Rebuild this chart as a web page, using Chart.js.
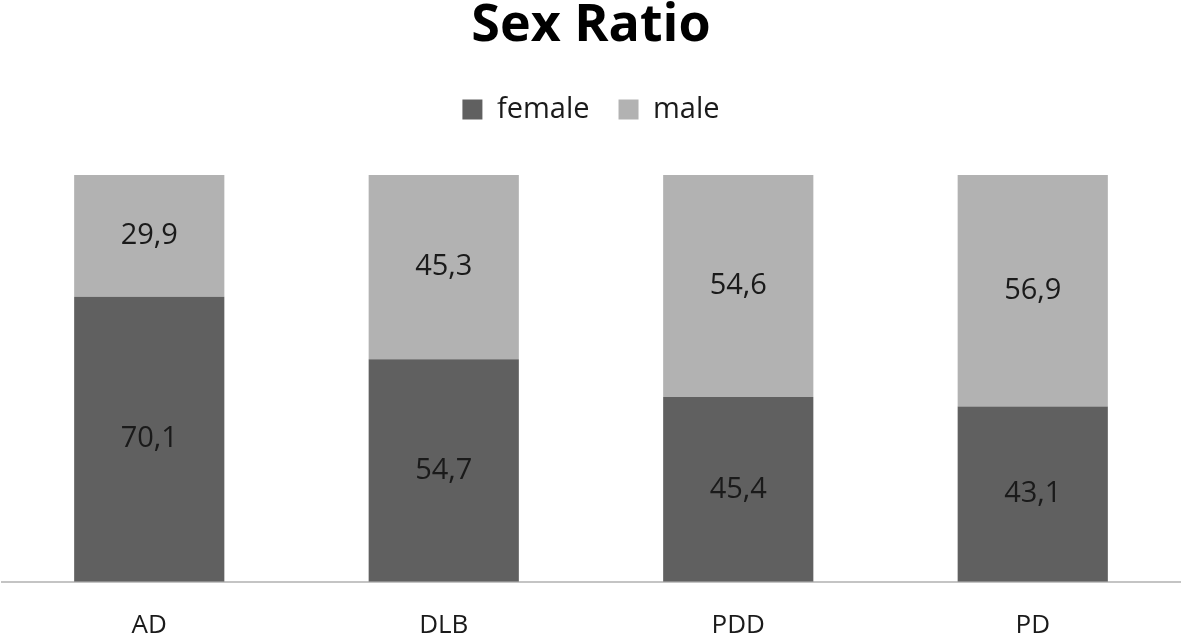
<!DOCTYPE html>
<html>
<head>
<meta charset="utf-8">
<script src="https://cdn.jsdelivr.net/npm/chart.js@4"></script>
<style>
	html, body { margin: 0; padding: 0; background: #fff; }
	#wrap { width: 1181px; height: 636px; }
</style>
</head>
<body>
<div id="wrap"><canvas id="chart"></canvas></div>
<script>
const categories	= [ "AD", "DLB", "PDD", "PD" ];
const female		= [ 70.1, 54.7, 45.4, 43.1 ];
const male			= [ 29.9, 45.3, 54.6, 56.9 ];

const FONT	= "'Open Sans', 'DejaVu Sans', sans-serif";

// draws the value in the middle of every bar segment, decimal comma
const barLabels = {
	id: "barLabels",
	afterDatasetsDraw( chart ) {
		const ctx = chart.ctx;
		ctx.save();
		ctx.font			= "29px " + FONT;
		ctx.fillStyle		= "#1a1a1a";
		ctx.textAlign		= "center";
		ctx.textBaseline	= "middle";
		chart.data.datasets.forEach( ( ds, i ) => {
			chart.getDatasetMeta( i ).data.forEach( ( bar, j ) => {
				const p = bar.getProps( [ "x", "y", "base" ], true );
				ctx.fillText( ds.data[ j ].toFixed( 1 ).replace( ".", "," ), p.x, ( p.y + p.base ) / 2 );
			} );
		} );
		ctx.restore();
	}
};

// extra room under the legend
const legendGap = {
	id: "legendGap",
	beforeInit( chart ) {
		const fit = chart.legend.fit;
		chart.legend.fit = function () {
			fit.bind( chart.legend )();
			this.height += 41;
		};
	}
};

new Chart( document.getElementById( "chart" ), {
	type: "bar",
	data: {
		labels: categories,
		datasets: [
			{ label: "female", data: female, backgroundColor: "#606060" },
			{ label: "male", data: male, backgroundColor: "#b2b2b2" }
		]
	},
	options: {
		responsive: true,
		maintainAspectRatio: false,
		animation: false,
		layout: { padding: { left: 2, right: 1, top: 0, bottom: -25 } },
		datasets: { bar: { categoryPercentage: 1, barPercentage: 0.51 } },
		plugins: {
			title: {
				display: true,
				text: "Sex Ratio",
				color: "#000",
				font: { family: FONT, size: 52, weight: "bold", lineHeight: 1 },
				padding: { top: 0, bottom: 14 }
			},
			legend: {
				labels: {
					color: "#1a1a1a",
					font: { family: FONT, size: 29 },
					boxWidth: 20,
					boxHeight: 20,
					padding: 29
				}
			},
			tooltip: { enabled: false }
		},
		scales: {
			x: {
				stacked: true,
				grid: { display: false },
				border: { color: "#c4c4c4", width: 2 },
				ticks: { color: "#1a1a1a", font: { family: FONT, size: 26 }, padding: 20 }
			},
			y: {
				stacked: true,
				display: false,
				min: 0,
				max: 100
			}
		}
	},
	plugins: [ barLabels, legendGap ]
} );
</script>
</body>
</html>
